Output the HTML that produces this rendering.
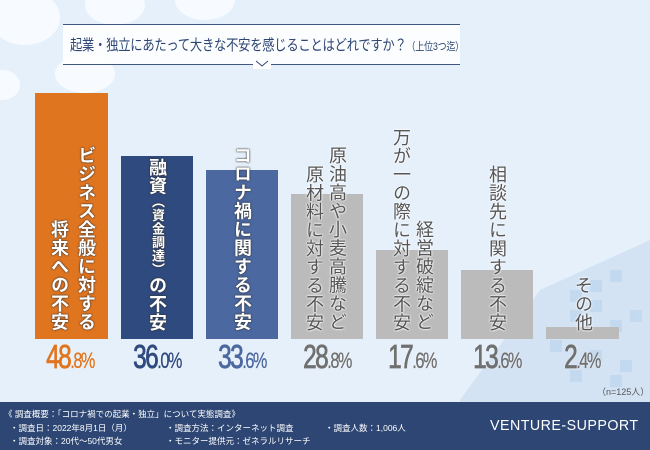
<!DOCTYPE html>
<html><head><meta charset="utf-8"><style>
*{margin:0;padding:0;box-sizing:border-box}
body{width:650px;height:450px;overflow:hidden;position:relative;background:#e5f0fb;font-family:"Liberation Sans","Noto Sans CJK JP",sans-serif}
.cloud{position:absolute;background:#f7fbff;border-radius:50%}
.bar{position:absolute;bottom:111px}
.col{position:absolute;writing-mode:vertical-rl;font-weight:bold;font-size:18px;line-height:20px;letter-spacing:0.5px;white-space:nowrap;bottom:119px;transform:translateX(-50%)}
.w{color:#fff;text-shadow:0 0 2px #333,0 0 1px #333}
.g{color:#555;font-weight:normal;text-shadow:0 0 2px #fff,0 0 2px #fff,0 0 1px #fff}
.pct{position:absolute;top:338px;font-size:33px;letter-spacing:-2px;transform:translateX(-50%) scaleX(0.74);text-shadow:0 0 2px #fff;white-space:nowrap;-webkit-text-stroke:0.8px currentColor}
.pct small{font-size:22px;-webkit-text-stroke:0.3px currentColor}
.ft{position:absolute;left:0;top:402px;width:650px;height:48px;background:#2d4673;color:#fff;font-size:8.5px}
.ft div{white-space:nowrap}
</style></head><body>
<div class="cloud" style="left:-10px;top:-10px;width:70px;height:55px"></div>
<div class="cloud" style="left:85px;top:-15px;width:60px;height:40px"></div>
<div class="cloud" style="left:175px;top:-20px;width:60px;height:40px"></div>
<div class="cloud" style="left:55px;top:55px;width:60px;height:38px"></div>
<div class="cloud" style="left:-15px;top:70px;width:35px;height:30px"></div>
<svg style="position:absolute;left:420px;top:200px" width="230" height="202"><g fill="#cfe0f3" opacity="0.8"><polygon points="40,200 120,90 230,40 230,202 40,202"/></g><g fill="#bcd5ef" opacity="0.7"><rect x="150" y="90" width="12" height="12"/><rect x="170" y="80" width="12" height="12"/><rect x="190" y="70" width="12" height="12"/><rect x="150" y="110" width="12" height="12"/><rect x="170" y="100" width="12" height="12"/><rect x="190" y="120" width="12" height="12"/><rect x="210" y="110" width="12" height="12"/><rect x="130" y="140" width="12" height="12"/><rect x="170" y="150" width="12" height="12"/><rect x="200" y="160" width="12" height="12"/><rect x="190" y="175" width="12" height="12"/><rect x="150" y="170" width="12" height="12"/></g></svg>
<div style="position:absolute;left:63px;top:24px;width:397px;height:41px;border-top:1.5px solid #2d4673;border-bottom:1.5px solid #2d4673;background:#fff;opacity:0.9"></div>
<div style="position:absolute;left:253px;top:59px;width:18px;height:10px;background:#fff"></div>
<svg style="position:absolute;left:255px;top:60px" width="14" height="8"><polyline points="1,1 7,6 13,1" fill="none" stroke="#2d4673" stroke-width="1"/></svg>
<div style="position:absolute;left:70px;top:34px;font-size:15px;color:#2d4673;white-space:nowrap;letter-spacing:-0.3px;transform:scaleX(0.82);transform-origin:0 0">起業・独立にあたって大きな不安を感じることはどれですか？<span style="font-size:11px">（上位3つ迄）</span></div>

<div class="bar" style="left:35px;width:73px;height:246px;background:#e07520"></div>
<div class="bar" style="left:121px;width:72px;height:183px;background:#2f4a7e"></div>
<div class="bar" style="left:206px;width:72px;height:169px;background:#4b68a0"></div>
<div class="bar" style="left:291px;width:72px;height:145px;background:#bbb"></div>
<div class="bar" style="left:376px;width:72px;height:89px;background:#bbb"></div>
<div class="bar" style="left:461px;width:72px;height:69px;background:#bbb"></div>
<div class="bar" style="left:546px;width:73px;height:12px;background:#bbb"></div>

<div class="col w" style="left:86px">ビジネス全般に対する</div>
<div class="col w" style="left:59px">将来への不安</div>
<div class="col w" style="left:157px">融資<span style="font-size:13px">（資金調達）</span>の不安</div>
<div class="col w" style="left:242px">コロナ禍に関する不安</div>
<div class="col g" style="left:337px">原油高や小麦高騰など</div>
<div class="col g" style="left:314px">原材料に対する不安</div>
<div class="col g" style="left:401px">万が一の際に対する不安</div>
<div class="col g" style="left:424px">経営破綻など</div>
<div class="col g" style="left:497px">相談先に関する不安</div>
<div class="col g" style="left:583px">その他</div>

<div class="pct" style="left:70px;color:#e07520">48<small>.8%</small></div>
<div class="pct" style="left:157px;color:#2f4a7e">36<small>.0%</small></div>
<div class="pct" style="left:242px;color:#4b68a0">33<small>.6%</small></div>
<div class="pct" style="left:327px;color:#707070">28<small>.8%</small></div>
<div class="pct" style="left:412px;color:#707070">17<small>.6%</small></div>
<div class="pct" style="left:497px;color:#707070">13<small>.6%</small></div>
<div class="pct" style="left:582px;color:#707070">2<small>.4%</small></div>
<div style="position:absolute;left:597px;top:385px;font-size:9px;color:#555">（n=125人）</div>

<div class="ft">
<div style="position:absolute;left:4px;top:6px">《 調査概要：「コロナ禍での起業・独立」について実態調査》</div>
<div style="position:absolute;left:10px;top:20px">・調査日：2022年8月1日（月）</div>
<div style="position:absolute;left:10px;top:33px">・調査対象：20代〜50代男女</div>
<div style="position:absolute;left:166px;top:20px">・調査方法：インターネット調査</div>
<div style="position:absolute;left:166px;top:33px">・モニター提供元：ゼネラルリサーチ</div>
<div style="position:absolute;left:325px;top:20px">・調査人数：1,006人</div>
<div style="position:absolute;left:490px;top:15px;font-size:15px;letter-spacing:0.5px;transform:scaleX(0.95);transform-origin:0 0">VENTURE-SUPPORT</div>
</div>
</body></html>
